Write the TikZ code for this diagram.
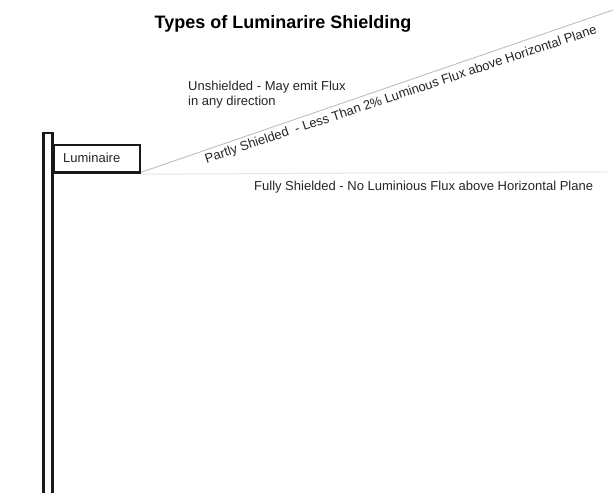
\documentclass[tikz,border=0pt]{standalone}
\usepackage{fontspec}
\setmainfont{Liberation Sans}
\begin{document}
\begin{tikzpicture}[x=1pt,y=1pt,
  lbl/.style={inner sep=0pt,anchor=base west,text=black!85,font=\fontsize{13}{14.5}\selectfont},
  heavy/.style={line width=2.7pt,draw=black!90},
  fluxline/.style={draw=black!25,line width=0.9pt},
  planeline/.style={draw=black!10,line width=1pt}]
\useasboundingbox[fill=white] (0,0) rectangle (613,-493);
% title
\node[inner sep=0pt,anchor=base,font=\fontsize{18}{20}\selectfont\bfseries] (title) at (283,-28) {Types of Luminarire Shielding};
% pole
\draw[heavy] (43.5,-493) -- (43.5,-133) -- (52.5,-133) -- (52.5,-493);
% luminaire box
\node[heavy,draw,rectangle,minimum width=86pt,minimum height=27.5pt,inner sep=0pt,anchor=north west] (lum) at (52.5,-143.5) {};
\node[lbl] (lumtext) at (63,-162.3) {Luminaire};
% lines
\coordinate (diagend) at (613,-10);
\coordinate (horizend) at (607,-172);
\draw[planeline] (lum.south east) ++(0,-0.5) -- (horizend);
\draw[fluxline] (lum.south east) ++(0,1.5) -- (diagend);
% texts
\node[lbl,align=left,anchor=base west] (unsh) at (188,-105) {Unshielded - May emit Flux\\in any direction};
\node[lbl,rotate=18.4] (partly) at (206.5,-163.3) {Partly Shielded\ \ - Less Than 2\% Luminous Flux above Horizontal Plane};
\node[lbl] (fully) at (254,-190) {Fully Shielded - No Luminious Flux above Horizontal Plane};
\end{tikzpicture}
\end{document}
